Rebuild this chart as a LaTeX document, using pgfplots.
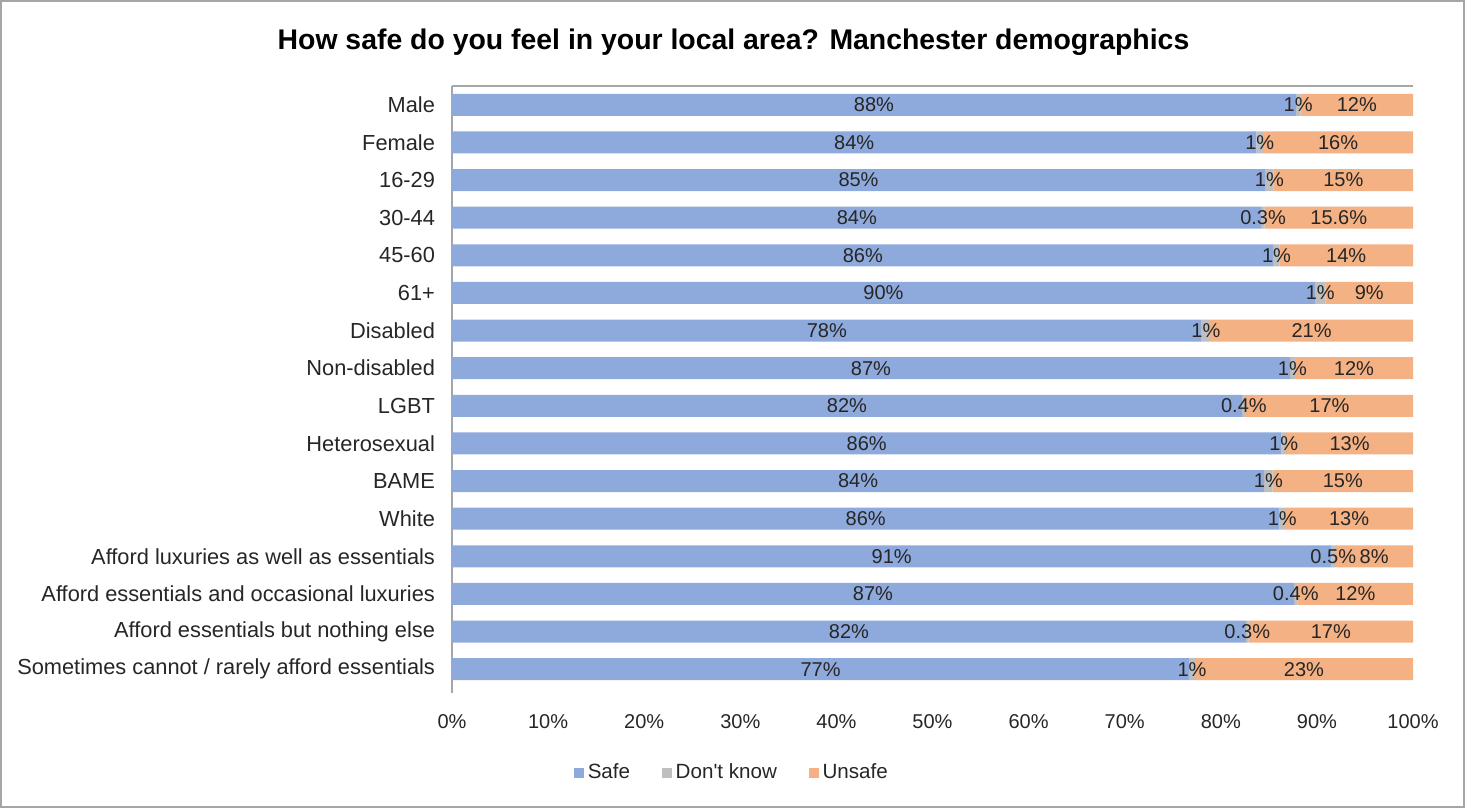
\documentclass[border=0pt]{standalone}
\usepackage{fontspec}
\setmainfont{Liberation Sans}
\usepackage{pgfplots}
\usepackage{pgfplotstable}
\pgfplotsset{compat=1.18}
\definecolor{safe}{HTML}{8EA9DB}
\definecolor{dk}{HTML}{BFBFBF}
\definecolor{unsafe}{HTML}{F4B183}
\definecolor{txt}{HTML}{262626}
\definecolor{axisgray}{HTML}{A6A6A6}

\pgfplotstableread{
y safe dk unsafe ls ld lu
0 87.8 0.5 11.7 88 1 12
1 83.7 0.7 15.6 84 1 16
2 84.6 0.9 14.5 85 1 15
3 84.25 0.3 15.45 84 0.3 15.6
4 85.5 0.6 13.9 86 1 14
5 89.8 1.1 9.1 90 1 9
6 78.0 0.9 21.1 78 1 21
7 87.2 0.5 12.3 87 1 12
8 82.2 0.4 17.4 82 0.4 17
9 86.3 0.5 13.2 86 1 13
10 84.5 0.9 14.6 84 1 15
11 86.1 0.6 13.3 86 1 13
12 91.5 0.4 8.1 91 0.5 8
13 87.6 0.4 12.0 87 0.4 12
14 82.6 0.3 17.1 82 0.3 17
15 76.7 0.6 22.7 77 1 23
}\data

\begin{document}
\begin{tikzpicture}
\useasboundingbox (0pt,0pt) rectangle (732.5pt,404pt);
\draw[axisgray, line width=0.9pt] (0.45pt,0.45pt) rectangle (732.05pt,403.55pt);
\node[font=\bfseries\fontsize{14.2}{16}\selectfont, text=black] at (366.75pt,383pt) {How safe do you feel in your local area? Manchester demographics};
\begin{axis}[
  at={(226pt,60pt)}, anchor=south west,
  scale only axis, width=480.5pt, height=301pt,
  xbar stacked, bar width=11pt,
  xmin=0, xmax=100, ymin=-0.5, ymax=15.5, y dir=reverse,
  clip=false,
  axis line style={draw=none}, tick style={draw=none},
  ytick={0,...,15},
  yticklabels={Male,Female,16-29,30-44,45-60,61+,Disabled,Non-disabled,LGBT,Heterosexual,BAME,White,Afford luxuries as well as essentials,Afford essentials and occasional luxuries,Afford essentials but nothing else,Sometimes cannot / rarely afford essentials},
  yticklabel style={font=\fontsize{10.9}{12}\selectfont, text=txt, xshift=-5pt},
  xtick={0,10,...,100},
  xticklabels={0\%,10\%,20\%,30\%,40\%,50\%,60\%,70\%,80\%,90\%,100\%},
  xticklabel style={font=\fontsize{10}{12}\selectfont, text=txt, yshift=-9.5pt},
  /pgf/number format/assume math mode=true,
  legend style={at={(0.2924,-0.141)}, anchor=center, legend columns=-1, draw=none, fill=none,
    font=\fontsize{10.3}{12}\selectfont, text=txt,
    /tikz/every even column/.append style={column sep=14pt}},
  legend image code/.code={\fill[#1] (0pt,-2.4pt) rectangle (4.8pt,2.4pt);},
]
\addplot[fill=safe, draw=none] table[x=safe, y=y]{\data};
\addplot[fill=dk, draw=none] table[x=dk, y=y]{\data};
\addplot[fill=unsafe, draw=none] table[x=unsafe, y=y]{\data};
\legend{Safe, Don\textquotesingle t know, Unsafe}
\draw[axisgray, line width=0.8pt] (axis cs:0,-0.5) -- (axis cs:100,-0.5);
\draw[axisgray, line width=0.8pt] (axis cs:0,-0.5) -- (axis cs:0,15.62);
\end{axis}
\begin{axis}[
  at={(226pt,60pt)}, anchor=south west,
  scale only axis, width=480.5pt, height=301pt,
  xmin=0, xmax=100, ymin=-0.5, ymax=15.5, y dir=reverse,
  hide axis, clip=false,
  every node near coord/.append style={anchor=center, font=\fontsize{10}{12}\selectfont, text=txt, inner sep=0pt},
]
\addplot[only marks, mark=none, nodes near coords={\pgfplotspointmeta\%}, point meta=explicit symbolic]
  table[x expr=\thisrow{safe}/2, y=y, meta=ls]{\data};
\addplot[only marks, mark=none, nodes near coords={\pgfplotspointmeta\%}, point meta=explicit symbolic]
  table[x expr=\thisrow{safe}+\thisrow{dk}/2, y=y, meta=ld]{\data};
\addplot[only marks, mark=none, nodes near coords={\pgfplotspointmeta\%}, point meta=explicit symbolic]
  table[x expr=\thisrow{safe}+\thisrow{dk}+\thisrow{unsafe}/2, y=y, meta=lu]{\data};
\end{axis}
\end{tikzpicture}
\end{document}
